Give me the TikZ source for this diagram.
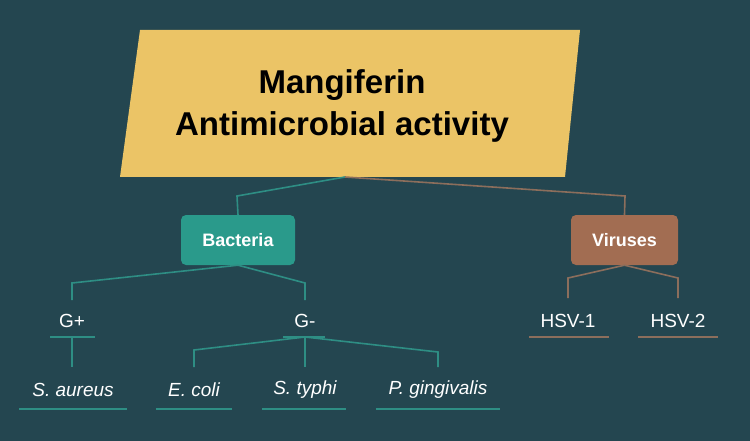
\documentclass[tikz,border=0pt]{standalone}
\usepackage{fontspec}
\setmainfont{Liberation Sans}
\definecolor{bg}{HTML}{244650}
\definecolor{gold}{HTML}{EBC466}
\definecolor{teal}{HTML}{2A9A8B}
\definecolor{brownc}{HTML}{A26D52}
\definecolor{tline}{HTML}{2E8E84}
\definecolor{bline}{HTML}{8C6E5C}
\begin{document}
\begin{tikzpicture}[x=1pt,y=-1pt,
  tl/.style={draw=tline,line width=1.6pt},
  bl/.style={draw=bline,line width=1.6pt},
  lbl/.style={text=white,font=\fontsize{19}{22}\selectfont,inner sep=0pt},
  leaf/.style={text=white,font=\fontsize{19}{22}\selectfont\itshape,inner sep=0pt},
  cat/.style={rounded corners=5pt,text=white,font=\fontsize{18}{22}\selectfont\bfseries,minimum width=114pt,minimum height=50pt}]
\fill[bg] (0,0) rectangle (750,441);
\useasboundingbox (0,0) rectangle (750,441);
\fill[gold] (140,30) -- (580,30) -- (565,177) -- (120,177) -- cycle;
\node[font=\fontsize{33}{40}\selectfont\bfseries,align=center] (title) at (342,106) {Mangiferin\\[2pt]Antimicrobial activity};
\coordinate (tb) at (345,177);
\node[cat,fill=teal] (bac) at (238,240) {Bacteria};
\node[cat,fill=brownc,minimum width=107pt] (vir) at (624.5,240) {Viruses};
\draw[tl] (tb) -- (237,196) -- (bac.north);
\draw[bl] (tb) -- (625,196) -- (vir.north);
% G nodes
\node[lbl] (gp) at (72,321) {G+};
\node[lbl] (gm) at (305,321) {G-};
\draw[tl] (bac.south) -- (72,283) -- (72,300);
\draw[tl] (bac.south) -- (305,283) -- (305,300);
\draw[tl] (50,337) -- (95,337);
\draw[tl] (283,337) -- (325,337);
\coordinate (gpu) at (72,337);
\coordinate (gmu) at (305,337);
\node[leaf] (sa) at (73,390) {S. aureus};
\node[leaf] (ec) at (194,390) {E. coli};
\node[leaf] (st) at (305,390) {S. typhi};
\node[leaf] (pg) at (438,390) {P. gingivalis};
\draw[tl] (gpu) -- (72,367);
\draw[tl] (gmu) -- (194,350) -- (194,367);
\draw[tl] (gmu) -- (305,367);
\draw[tl] (gmu) -- (438,352) -- (438,367);
\draw[tl] (19,409) -- (127,409);
\draw[tl] (156,409) -- (232,409);
\draw[tl] (262,409) -- (346,409);
\draw[tl] (376,409) -- (500,409);
% viruses
\node[lbl] (h1) at (568,321) {HSV-1};
\node[lbl] (h2) at (678,321) {HSV-2};
\draw[bl] (vir.south) -- (568,278) -- (568,298);
\draw[bl] (vir.south) -- (678,278) -- (678,298);
\draw[bl] (529,337) -- (609,337);
\draw[bl] (638,337) -- (718,337);
\end{tikzpicture}
\end{document}
